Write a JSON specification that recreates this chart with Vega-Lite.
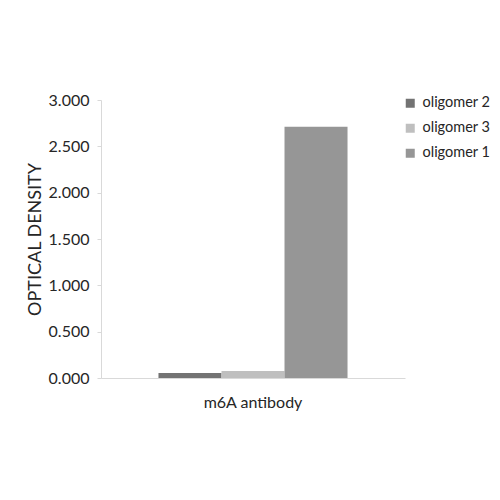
{
  "$schema": "https://vega.github.io/schema/vega-lite/v6.json",
  "width": 304,
  "height": 278,
  "autosize": {"type": "none"},
  "padding": {"left": 101, "top": 100, "right": 95, "bottom": 122},
  "background": "white",
  "data": {
    "values": [
      {"target": "m6A antibody", "sample": "oligomer 2", "od": 0.055},
      {"target": "m6A antibody", "sample": "oligomer 3", "od": 0.075},
      {"target": "m6A antibody", "sample": "oligomer 1", "od": 2.71}
    ]
  },
  "mark": {"type": "bar"},
  "encoding": {
    "x": {
      "field": "target",
      "type": "nominal",
      "scale": {"paddingOuter": 0.304, "paddingInner": 0},
      "axis": {
        "title": null,
        "labelAngle": 0,
        "ticks": false,
        "labelPadding": 16,
        "labelFontSize": 16,
        "domainColor": "#d9d9d9"
      }
    },
    "xOffset": {
      "field": "sample",
      "type": "nominal",
      "sort": ["oligomer 2", "oligomer 3", "oligomer 1"],
      "scale": {"paddingInner": 0, "paddingOuter": 0}
    },
    "y": {
      "field": "od",
      "type": "quantitative",
      "scale": {"domain": [0, 3]},
      "axis": {
        "title": "OPTICAL DENSITY",
        "values": [0, 0.5, 1, 1.5, 2, 2.5, 3],
        "format": ".3f",
        "grid": false,
        "tickSize": 4,
        "tickColor": "#d9d9d9",
        "domainColor": "#d9d9d9",
        "labelPadding": 8,
        "labelFontSize": 16,
        "titleFontSize": 18,
        "titleFontWeight": "normal",
        "titlePadding": 4
      }
    },
    "color": {
      "field": "sample",
      "type": "nominal",
      "scale": {
        "domain": ["oligomer 2", "oligomer 3", "oligomer 1"],
        "range": ["#737373", "#bfbfbf", "#969696"]
      },
      "legend": {
        "title": null,
        "orient": "none",
        "legendX": 302,
        "legendY": -4,
        "padding": 0,
        "symbolType": "square",
        "symbolSize": 81,
        "symbolStrokeWidth": 0,
        "labelFontSize": 14.5,
        "rowPadding": 10,
        "labelOffset": 5
      }
    }
  },
  "config": {
    "font": "Lato",
    "view": {"stroke": null},
    "axis": {"labelColor": "#262626", "titleColor": "#262626"},
    "legend": {"labelColor": "#262626"}
  }
}
